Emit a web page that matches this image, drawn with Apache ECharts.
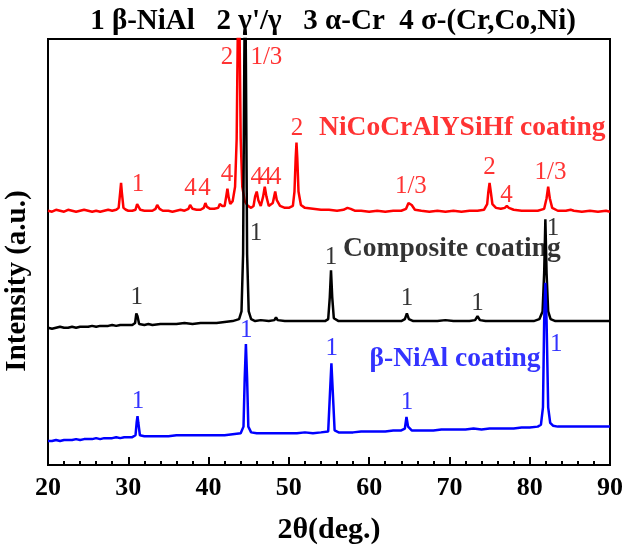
<!DOCTYPE html>
<html>
<head>
<meta charset="utf-8">
<script src="https://cdn.jsdelivr.net/npm/echarts@6/dist/echarts.min.js"></script>
<style>html,body{margin:0;padding:0;background:#fff}#c{width:626px;height:550px}</style>
</head>
<body>
<div id="c"></div>
<script>
// ---- data (2θ in degrees, intensity in arbitrary units, curves stacked with offsets) ----
const xTicks = [20, 30, 40, 50, 60, 70, 80, 90];
const titleText = "1 \u03B2-NiAl   2 \u03B3'/\u03B3   3 \u03B1-Cr  4 \u03C3-(Cr,Co,Ni)";
const xName = "2\u03B8(deg.)";
const yName = "Intensity (a.u.)";
const seriesNames = ["NiCoCrAlYSiHf coating", "Composite coating", "\u03B2-NiAl coating"];

const nicocr = [
[20,265],[20.5,264],[21,266],[21.5,265],[22,264],[22.5,266],[23,265],[23.5,264],[24,265],[24.5,266],[25,265],[25.5,264],[26,265],[26.5,264],[27,265],[27.5,266],[28,265],[28.5,266],[28.8,268],[29.0,285],[29.1,294],[29.2,284],[29.4,268],[29.7,266],[30,265],[30.5,265],[30.9,266],[31.1,272],[31.2,274],[31.3,271],[31.5,266],[32,265],[32.5,265],[33,265],[33.4,267],[33.6,271],[33.7,270],[33.9,267],[34.3,265],[35,265],[35.5,264],[36,265],[36.5,266],[37,265],[37.5,267],[37.7,271],[37.8,271],[38,267],[38.5,266],[39,266],[39.4,268],[39.6,273],[39.8,269],[40.2,267],[40.7,267],[41.2,268],[41.4,272],[41.5,274],[41.7,270],[42.0,270],[42.2,280],[42.35,288],[42.5,279],[42.7,272],[43.0,275],[43.3,290],[43.5,340],[43.65,460],[43.75,520],[43.85,460],[44.0,340],[44.2,290],[44.5,275],[44.9,270],[45.3,268],[45.6,270],[45.8,280],[46.0,285],[46.2,276],[46.5,270],[46.8,280],[47.0,290],[47.2,280],[47.5,270],[48.0,273],[48.3,285],[48.5,276],[48.9,270],[49.5,268],[50,268],[50.5,270],[50.7,285],[50.85,320],[50.95,336],[51.05,320],[51.2,285],[51.5,271],[52,268],[53,267],[54,266],[55,266],[56,265],[56.8,266],[57.3,268],[57.5,270],[57.7,267],[58.2,265],[59,265],[60,264],[61,265],[62,264],[63,265],[64,265],[64.6,267],[64.9,273],[65.1,275],[65.3,271],[65.7,266],[66.5,265],[67.5,264],[68.5,265],[69.5,264],[70.5,265],[71.5,264],[72.5,265],[73.5,265],[74.3,266],[74.7,272],[74.85,285],[75.0,294],[75.15,285],[75.35,272],[75.8,268],[76.4,267],[76.9,268],[77.15,270],[77.4,268],[78,266],[79,265],[80,265],[81,265],[81.8,267],[82.1,278],[82.3,290],[82.5,278],[82.8,268],[83.5,265],[84.5,265],[85.1,266],[85.3,267],[85.5,265],[86.5,264],[87.5,265],[88.5,264],[89.5,265],[90,264]
];

const composite = [
[20,143],[20.5,142],[21,143],[21.5,144],[22,143],[22.5,143],[23,144],[23.5,143],[24,144],[24.5,144],[25,144],[25.5,145],[26,144],[26.5,145],[27,145],[27.5,145],[28,146],[28.5,145],[29,146],[29.5,146],[30,146],[30.5,146],[30.85,148],[31.0,158],[31.05,160],[31.15,155],[31.35,147],[32,146],[32.5,147],[33,146],[34,147],[35,147],[36,147],[37,148],[38,147],[39,148],[40,148],[41,148],[42,149],[43,150],[43.8,152],[44.1,160],[44.3,220],[44.45,420],[44.55,520],[44.65,420],[44.8,220],[45.0,160],[45.3,152],[45.8,150],[46.5,151],[47.5,150],[48.2,151],[48.4,154],[48.6,151],[49.5,150],[50.5,150],[51.5,150],[52.5,150],[53.5,150],[54.5,150],[54.9,152],[55.1,175],[55.25,203],[55.4,175],[55.6,153],[56.2,150],[57,150],[58,150],[59,150],[60,150],[61,150],[62,150],[63,150],[64,150],[64.45,152],[64.7,158],[64.95,152],[65.5,150],[66.5,150],[67.5,150],[68.5,150],[69.5,151],[70.5,150],[71.5,150],[72.5,150],[73.2,151],[73.5,155],[73.8,151],[74.5,150],[75.5,150],[76.5,150],[77.5,150],[78.5,150],[79.5,150],[80.5,150],[81.2,152],[81.6,160],[81.8,200],[81.95,256],[82.1,200],[82.3,160],[82.6,152],[83.2,150],[84,150],[85,150],[86,150],[87,150],[88,150],[89,150],[90,150]
];

const nial = [
[20,25],[20.5,25],[21,26],[21.5,25],[22,26],[22.5,26],[23,26],[23.5,27],[24,26],[24.5,27],[25,27],[25.5,27],[26,28],[26.5,27],[27,28],[27.5,28],[28,28],[28.5,29],[29,28],[29.5,29],[30,29],[30.5,29],[30.9,31],[31.05,45],[31.15,51],[31.25,44],[31.45,31],[32,30],[33,30],[34,30],[35,30],[36,31],[37,31],[38,31],[39,31],[40,31],[41,31],[42,31],[43,32],[44,33],[44.35,40],[44.5,90],[44.65,126],[44.8,90],[44.95,40],[45.3,34],[46,33],[47,33],[48,33],[49,33],[50,33],[51,33],[52,34],[53,33],[54,34],[54.9,35],[55.15,80],[55.3,106],[55.45,80],[55.7,36],[56.2,34],[57,34],[58,34],[59,35],[60,35],[61,35],[62,35],[63,36],[64,36],[64.45,38],[64.65,50],[64.85,40],[65.3,36],[66,36],[67,36],[68,36],[69,37],[70,37],[71,37],[72,37],[73,38],[74,37],[75,38],[76,38],[77,38],[78,38],[79,39],[80,39],[81,40],[81.4,42],[81.65,60],[81.8,150],[81.95,190],[82.1,150],[82.3,60],[82.55,44],[82.9,41],[83.5,40],[84.5,40],[85.5,40],[86.5,40],[87.5,40],[88.5,40],[89.5,40],[90,40]
];

// peak index labels: [2θ, intensity, text]
const redLabels = [[31.2,292,'1'],[37.75,288,'4'],[39.5,288,'4'],[42.3,303,'4'],[42.3,425,'2'],[47.2,425,'1/3'],[46.0,300,'4'],[47.1,300,'4'],[48.3,300,'4'],[51.0,351,'2'],[65.2,290,'1/3'],[75.0,310,'2'],[77.1,281,'4'],[82.6,305,'1/3']];
const blackLabels = [[31.05,175,'1'],[45.9,241,'1'],[55.25,216,'1'],[64.7,174,'1'],[73.5,168,'1'],[82.9,247,'1']];
const blueLabels = [[31.2,66,'1'],[44.7,140,'1'],[55.35,121,'1'],[64.7,65,'1'],[83.3,126,'1']];
const nameLabels = [[71.6,351,0],[70.3,225,1],[70.7,111,2]];

const FONT = "'Times New Roman','Liberation Serif',serif";
const colors = ['#ff0000', '#000000', '#0000ff'];

const chart = echarts.init(document.getElementById('c'), null, {renderer: 'canvas'});

function labelSeries(data, color, size, weight) {
  return {
    type: 'scatter', data: data, symbolSize: 1, silent: true,
    itemStyle: {color: 'rgba(0,0,0,0)'},
    label: {show: true, position: 'inside', formatter: p => p.data[2], color: color,
      fontFamily: FONT, fontSize: size, fontWeight: weight},
    z: 5
  };
}

const option = {
  animation: false,
  grid: {left: 48, right: 14, top: 39, bottom: 67, show: true, borderColor: '#000', borderWidth: 2, backgroundColor: 'transparent'},
  graphic: [
    {type: 'text', x: 333, y: 22, style: {text: titleText, font: "bold 29px " + FONT, fill: '#000', textAlign: 'center', textVerticalAlign: 'middle'}},
    {type: 'text', x: 18, y: 281, rotation: Math.PI / 2, style: {text: yName, font: "bold 29px " + FONT, fill: '#000', textAlign: 'center', textVerticalAlign: 'middle'}}
  ],
  xAxis: {
    type: 'value', min: xTicks[0], max: xTicks[xTicks.length - 1], interval: 10,
    name: xName, nameLocation: 'middle', nameGap: 50,
    nameTextStyle: {fontFamily: FONT, fontSize: 30, fontWeight: 'bold', color: '#000'},
    axisLine: {show: true, lineStyle: {color: '#000', width: 2}},
    axisTick: {show: true, inside: true, length: 8, lineStyle: {color: '#000', width: 2}},
    minorTick: {show: true, splitNumber: 5, length: 4, lineStyle: {color: '#000', width: 2}},
    axisLabel: {fontFamily: FONT, fontSize: 26, fontWeight: 'bold', color: '#000', margin: 10},
    splitLine: {show: false}
  },
  yAxis: {
    type: 'value', min: 0, max: 444,
    axisLine: {show: false}, axisTick: {show: false}, axisLabel: {show: false}, splitLine: {show: false}
  },
  series: [
    {type: 'line', data: nicocr, showSymbol: false, lineStyle: {color: colors[0], width: 2.5}, clip: true, z: 2},
    {type: 'line', data: composite, showSymbol: false, lineStyle: {color: colors[1], width: 2.5}, clip: true, z: 3},
    {type: 'line', data: nial, showSymbol: false, lineStyle: {color: colors[2], width: 2.5}, clip: true, z: 4},
    labelSeries(redLabels, colors[0], 25, 'normal'),
    labelSeries(blackLabels, colors[1], 25, 'normal'),
    labelSeries(blueLabels, colors[2], 25, 'normal'),
    {
      type: 'scatter', symbolSize: 1, silent: true,
      data: nameLabels.map(d => ({value: d, label: {color: colors[d[2]]}})),
      itemStyle: {color: 'rgba(0,0,0,0)'},
      label: {show: true, position: 'inside', formatter: p => seriesNames[p.value[2]],
        fontFamily: FONT, fontSize: 27.5, fontWeight: 'bold'},
      z: 6
    }
  ]
};
chart.setOption(option);
</script>
</body>
</html>
